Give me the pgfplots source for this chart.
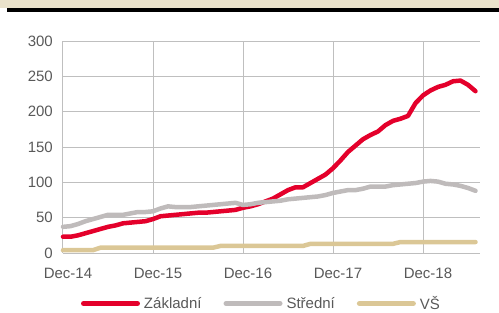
\documentclass[border=0pt]{standalone}
\usepackage{pgfplots}
\pgfplotsset{compat=1.18}
\usepackage{fontspec}
\setmainfont{Liberation Sans}
\definecolor{cred}{HTML}{E4002B}
\definecolor{cgray}{HTML}{BFBBBB}
\definecolor{cbeige}{HTML}{DBC796}
\definecolor{band}{HTML}{EAE2CB}
\definecolor{grid}{HTML}{D9D9D9}
\definecolor{tick}{HTML}{595959}
\begin{document}
\begin{tikzpicture}[x=1pt,y=1pt]
\fill[band] (0,0) rectangle (499,-8.5);
\fill[black] (7,-8.5) rectangle (499,-12);
\begin{axis}[
  at={(63pt,-253pt)}, anchor=south west,
  scale only axis, width=417pt, height=212pt,
  xmin=0, xmax=55.6, ymin=0, ymax=300,
  axis line style={draw=none},
  ytick={0,50,...,300},
  xtick={0,12,24,36,48},
  xticklabels={Dec-14,Dec-15,Dec-16,Dec-17,Dec-18},
  ymajorgrids, grid style={grid, line width=1pt},
  major tick length=0pt,
  tick label style={font=\fontsize{15}{18}\selectfont, text=tick, inner sep=0pt},
  yticklabel style={anchor=east, xshift=-10pt},
  xticklabel style={anchor=north, xshift=5pt, yshift=-15pt},
  /pgf/number format/assume math mode=true,
  clip=false,
  legend columns=3,
  legend style={draw=none, fill=none, inner sep=0pt, outer sep=0pt,
    at={(18pt,-50.5pt)}, anchor=west,
    font=\fontsize{15}{18}\selectfont, text=tick,
    nodes={inner sep=0pt},
    /tikz/every odd column/.append style={column sep=4pt},
    /tikz/every even column/.append style={column sep=22pt}},
  legend image code/.code={\draw[#1, line width=5pt, line cap=round] (0pt,0pt) -- (54pt,0pt);},
  every axis plot/.append style={line width=4.5pt, line join=round, line cap=round},
]
\addplot[cred] coordinates {
(0,23)(1,23)(2,25)(3,28)(4,31)(5,34)(6,37)(7,39)(8,42)(9,43)(10,44)(11,45)
(12,48)(13,52)(14,53)(15,54)(16,55)(17,56)(18,57)(19,57)(20,58)(21,59)(22,60)(23,61)
(24,64)(25,66)(26,69)(27,73)(28,77)(29,83)(30,89)(31,93)(32,93)(33,99)(34,105)(35,111)
(36,120)(37,131)(38,143)(39,152)(40,161)(41,167)(42,172)(43,181)(44,187)(45,190)(46,194)(47,212)
(48,223)(49,230)(50,235)(51,238)(52,243)(53,244)(54,238)(55,229)};
\addlegendentry{Základní}
\addplot[cgray] coordinates {
(0,37)(1,38)(2,41)(3,45)(4,48)(5,51)(6,54)(7,54)(8,54)(9,56)(10,58)(11,58)
(12,59)(13,63)(14,66)(15,65)(16,65)(17,65)(18,66)(19,67)(20,68)(21,69)(22,70)(23,71)
(24,68)(25,69)(26,71)(27,72)(28,73)(29,74)(30,76)(31,77)(32,78)(33,79)(34,80)(35,82)
(36,85)(37,87)(38,89)(39,89)(40,91)(41,94)(42,94)(43,94)(44,96)(45,97)(46,98)(47,99)
(48,101)(49,102)(50,101)(51,98)(52,97)(53,95)(54,92)(55,88)};
\addlegendentry{Střední}
\addplot[cbeige] coordinates {
(0,4)(1,4)(2,4)(3,4)(4,4)(5,7.5)(6,7.5)(7,7.5)(8,7.5)(9,7.5)(10,7.5)(11,7.5)
(12,7.5)(13,7.5)(14,7.5)(15,7.5)(16,7.5)(17,7.5)(18,7.5)(19,7.5)(20,7.5)(21,10)(22,10)(23,10)
(24,10)(25,10)(26,10)(27,10)(28,10)(29,10)(30,10)(31,10)(32,10)(33,13)(34,13)(35,13)
(36,13)(37,13)(38,13)(39,13)(40,13)(41,13)(42,13)(43,13)(44,13)(45,15.5)(46,15.5)(47,15.5)
(48,15.5)(49,15.5)(50,15.5)(51,15.5)(52,15.5)(53,15.5)(54,15.5)(55,15.5)};
\addlegendentry{VŠ}
\end{axis}
\pgfresetboundingbox
\useasboundingbox (0,0) rectangle (499,-313);
\end{tikzpicture}
\end{document}
